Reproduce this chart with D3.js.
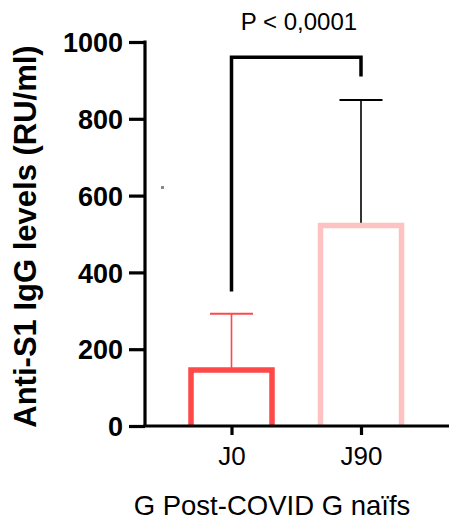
<!DOCTYPE html>
<html><head><meta charset="utf-8">
<script src="https://cdn.jsdelivr.net/npm/d3@7"></script>
<style>body{margin:0;background:#fff}svg{display:block}text{font-family:"Liberation Sans",Arial,sans-serif}</style>
</head><body>
<script>
const categories = ["J0", "J90"];
const means = [146, 522];
const errTop = [292, 849];
const colors = ["#ff4848", "#ffc2c2"];
const errColors = ["#ff4848", "#000000"];
const yTicks = [0, 200, 400, 600, 800, 1000];
const pLabel = "P < 0,0001";
const bracketY = 960;
const bracketLegs = [350, 910];

const W = 449, H = 522;
const svg = d3.select("body").append("svg").attr("width", W).attr("height", H);
const y = d3.scaleLinear().domain([0, 1000]).range([426, 42]);
const x = d3.scalePoint().domain(categories).range([231.5, 361]);

// bars
categories.forEach((c, i) => {
  const cx = x(c);
  const bw = 81;
  svg.append("line").attr("x1", cx).attr("x2", cx).attr("y1", y(means[i])).attr("y2", y(errTop[i]))
    .attr("stroke", errColors[i]).attr("stroke-width", 1.6);
  svg.append("line").attr("x1", cx - 21.5).attr("x2", cx + 21.5).attr("y1", y(errTop[i])).attr("y2", y(errTop[i]))
    .attr("stroke", errColors[i]).attr("stroke-width", 2);
  svg.append("path")
    .attr("d", `M${cx - bw/2},${y(0)}V${y(means[i])}H${cx + bw/2}V${y(0)}`)
    .attr("fill", "none").attr("stroke", colors[i]).attr("stroke-width", 5.5);
});

// axes
const yAxis = svg.append("g").attr("transform", "translate(145,0)")
  .call(d3.axisLeft(y).tickValues(yTicks).tickSize(16).tickPadding(6).tickFormat(d3.format("d")));
yAxis.select(".domain").attr("stroke-width", 3.2).attr("d", `M0,${y(1000) - 1.5}V${y(0)}`);
yAxis.selectAll(".tick line").attr("stroke-width", 3.2);
yAxis.selectAll("text").attr("font-size", 27).attr("font-weight", "bold").attr("fill", "#000").attr("dy", "0.36em");

const xAxis = svg.append("g").attr("transform", `translate(0,${y(0)})`)
  .call(d3.axisBottom(x).tickSize(9).tickPadding(12));
xAxis.select(".domain").attr("stroke-width", 3.2).attr("d", `M143.4,0H449`);
xAxis.selectAll(".tick line").attr("stroke-width", 3.2);
xAxis.selectAll("text").attr("font-size", 26).attr("fill", "#000").attr("dy", "0.71em");

// titles
svg.append("text").attr("transform", "translate(36,236.5) rotate(-90)").attr("text-anchor", "middle")
  .attr("font-size", 31).attr("font-weight", "bold").text("Anti-S1 IgG levels (RU/ml)");
svg.append("text").attr("x", 272).attr("y", 515).attr("text-anchor", "middle").attr("font-size", 27.5)
  .text("G Post-COVID G naïfs");

// bracket
const x0 = x("J0"), x1 = x("J90");
svg.append("path").attr("d", `M${x0},${y(bracketLegs[0])}V${y(bracketY)}H${x1}V${y(bracketLegs[1])}`)
  .attr("fill", "none").attr("stroke", "#000").attr("stroke-width", 3.5);
svg.append("text").attr("x", 299).attr("y", 30).attr("text-anchor", "middle").attr("font-size", 24)
  .text(pLabel);

// stray dot
svg.append("rect").attr("x", 161).attr("y", 186).attr("width", 3).attr("height", 3).attr("fill", "#888");
</script>
</body></html>
